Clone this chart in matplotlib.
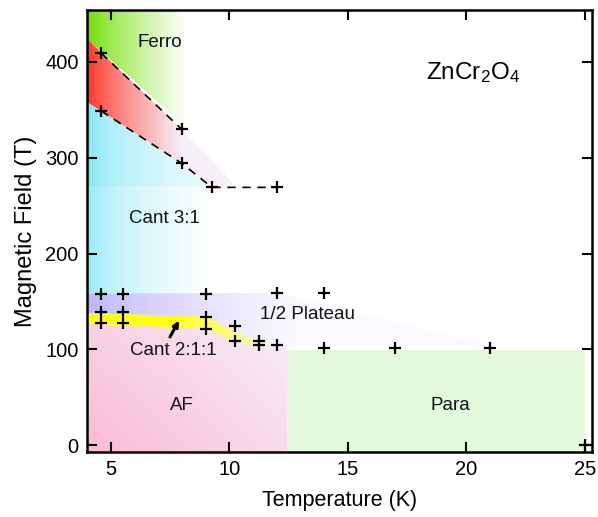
import numpy as np
import matplotlib
matplotlib.use("Agg")
import matplotlib.pyplot as plt
from matplotlib.patches import Polygon

plt.rcParams["font.family"] = ["Liberation Sans", "DejaVu Sans"]
plt.rcParams["mathtext.default"] = "regular"

# measured transition points (T in K, B in T)
upper_T = [4.6, 8.0]
upper_B = [409, 329.5]
lower_T = [4.6, 8.0, 9.27, 12.0]
lower_B = [348.6, 294, 269, 269]
plateau_T = [4.6, 5.5, 9.0, 12.0, 14.0]
plateau_B = [158, 158, 158, 159, 159]
low_T = [4.6, 4.6, 5.5, 5.5, 9.0, 9.0, 10.25, 10.25, 11.25, 11.25, 12.0, 14.0, 17.0, 21.0, 25.0]
low_B = [138.5, 128, 138.5, 128, 134, 121.5, 124, 108.5, 109, 104.5, 104.5, 101, 101, 101, 0]

# phase regions (boundaries)
ferro_region = [(4, 454), (8.3, 454), (8.3, 329), (4, 424)]
trans_region = [(4, 424), (8.0, 329.5), (10.3, 270), (9.27, 269), (8.0, 294), (4, 358)]
cant31_region = [(4, 358), (8.0, 294), (9.27, 269), (10.3, 270), (12.4, 158), (4, 158)]
plateau_region = [(4, 158), (12.0, 159), (21.5, 101), (12.0, 103), (11.3, 107),
                  (10.2, 120), (9.0, 133.5), (4, 137.5)]
cant211_region = [(4, 138), (9.0, 134.5), (10.3, 119), (11.3, 108), (12.0, 103.5),
                  (11.0, 103.5), (10.2, 109), (9.0, 122), (4, 127)]
af_region = [(4, -7), (12.45, -7), (12.45, 103), (11.0, 103.5), (10.2, 109),
             (9.0, 122), (4, 127)]
para_region = [(12.45, -7), (25.0, -7), (25.0, 99), (12.45, 99)]

fig = plt.figure(figsize=(5.98, 5.17), dpi=100)
ax = fig.add_axes([0.1455, 0.1257, 0.8445, 0.855])
xlim = (4.0, 25.3)
ylim = (-7, 454)
ax.set_xlim(*xlim)
ax.set_ylim(*ylim)

xs = np.linspace(xlim[0], xlim[1], 600)
ys = np.linspace(ylim[0], ylim[1], 500)
X, Y = np.meshgrid(xs, ys)


def fill_gradient(verts, c0, c1, t, z=0):
    c0 = np.array(c0) / 255.0
    c1 = np.array(c1) / 255.0
    t = np.clip(t, 0, 1)[..., None]
    img = c0 + (c1 - c0) * t
    im = ax.imshow(img, extent=(xlim[0], xlim[1], ylim[0], ylim[1]), origin="lower",
                   aspect="auto", zorder=z, interpolation="bilinear")
    patch = Polygon(verts, closed=True, facecolor="none", edgecolor="none",
                    transform=ax.transData)
    ax.add_patch(patch)
    im.set_clip_path(patch)


fill_gradient(ferro_region, (110, 222, 0), (255, 255, 255), ((X - 4) / 4.2) ** 0.8, z=0)
fill_gradient(trans_region, (255, 50, 35), (247, 240, 250), ((X - 4) / 4.0) ** 0.8, z=0)
# cant 3:1 is a bit deeper above 270 T
fill_gradient(cant31_region, (115, 228, 245), (255, 255, 255),
              ((X - 4) / 7.0) ** 0.45 + 0.12 * (Y < 270), z=0)
fill_gradient(plateau_region, (188, 178, 250), (252, 250, 255), ((X - 4) / 9.0) ** 0.7, z=0)
fill_gradient(cant211_region, (255, 255, 20), (250, 246, 205), ((X - 7.5) / 4.0), z=0.1)
fill_gradient(af_region, (250, 188, 212), (248, 238, 248),
              0.6 * (X - 4) / 8.5 + 0.4 * (Y + 7) / 130, z=0)
fill_gradient(para_region, (228, 250, 220), (228, 250, 220), X * 0, z=0)

ax.plot(upper_T, upper_B, "k--", lw=1.2, dashes=(5, 4), zorder=2)
ax.plot(lower_T, lower_B, "k--", lw=1.2, dashes=(5, 4), zorder=2)
mk = dict(marker="+", color="k", ms=9, mew=1.6, ls="none", zorder=3)
ax.plot(upper_T, upper_B, **mk)
ax.plot(lower_T, lower_B, **mk)
ax.plot(plateau_T, plateau_B, **mk)
ax.plot(low_T, low_B, **mk)

ax.annotate("", xy=(7.88, 130), xytext=(7.5, 113),
            arrowprops=dict(arrowstyle="-|>", color="k", lw=2.2, mutation_scale=8,
                            shrinkA=0, shrinkB=0),
            zorder=4)

lab = dict(fontsize=13.5, ha="center", va="center", color="#111111", zorder=4)
ax.text(7.07, 420, "Ferro", **lab)
ax.text(7.28, 237, "Cant 3:1", **lab)
ax.text(13.3, 136, "1/2 Plateau", **lab)
ax.text(7.63, 99, "Cant 2:1:1", **lab)
ax.text(8.0, 42, "AF", **lab)
ax.text(19.33, 42, "Para", **lab)
ax.text(20.3, 389, r"ZnCr$_2$O$_4$", fontsize=17.5, ha="center", va="center", zorder=4)

ax.set_xticks([5, 10, 15, 20, 25])
ax.set_yticks([0, 100, 200, 300, 400])
ax.tick_params(direction="in", length=7, width=1.5, labelsize=14.5,
               top=True, right=True, pad=6)
for s in ax.spines.values():
    s.set_linewidth(1.8)
    s.set_zorder(5)
ax.set_xlabel("Temperature (K)", fontsize=15.5, labelpad=8)
ax.set_ylabel("Magnetic Field (T)", fontsize=17, labelpad=6)

fig.savefig("out.png", dpi=100)
